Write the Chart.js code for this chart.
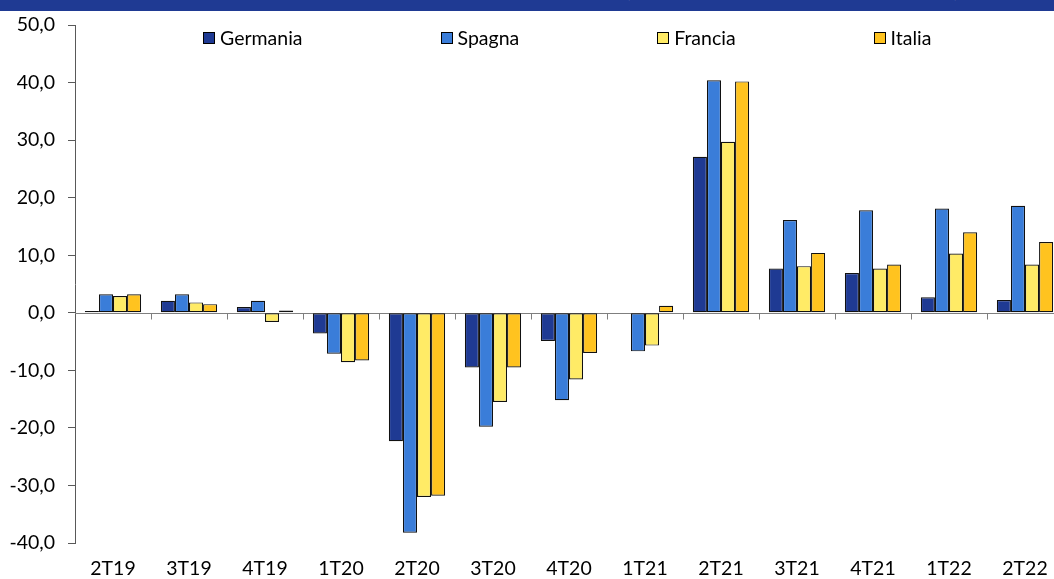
<!DOCTYPE html>
<html>
<head>
<meta charset="utf-8">
<script src="https://cdn.jsdelivr.net/npm/chart.js@4"></script>
<style>
  html, body { margin: 0; padding: 0; background: #fff; overflow: hidden; width: 1054px; height: 579px; }
  #banner { position: absolute; left: 0; top: 0; width: 1054px; height: 11px; background: #1f3a93; overflow: hidden; z-index: 3; }
  #banner .t { position: absolute; top: -24px; color: #fff; font: 22px Lato, sans-serif; white-space: nowrap; line-height: 26px; }
  #wrap { position: absolute; left: 0; top: 0; width: 1068px; height: 579px; }
  #legend { position: absolute; left: 203px; top: 27px; display: flex; z-index: 2; font: 19.5px Lato, sans-serif; color: #000; line-height: 22px; }
  #legend .item { display: flex; align-items: center; margin-right: 138px; }
  #legend .box { width: 10px; height: 10px; border: 1px solid #000; margin-right: 5px; }
</style>
</head>
<body>
<div id="banner"><span class="t" style="left:625px">(variazioni tendenziali</span><span class="t" style="left:925px">, %)</span></div>
<div id="wrap"><canvas id="chart" width="1068" height="579"></canvas></div>
<div id="legend"></div>
<script>
const quarters = ['2T19', '3T19', '4T19', '1T20', '2T20', '3T20', '4T20', '1T21', '2T21', '3T21', '4T21', '1T22', '2T22'];

const germania = [0.3, 2.1, 1.0, -3.6, -22.3, -9.5, -4.9, 0.0, 27.1, 7.7, 6.9, 2.7, 2.2];
const spagna   = [3.2, 3.2, 2.1, -7.1, -38.2, -19.8, -15.2, -6.7, 40.4, 16.1, 17.8, 18.1, 18.6];
const francia  = [2.9, 1.8, -1.6, -8.6, -32.0, -15.5, -11.6, -5.7, 29.7, 8.1, 7.7, 10.3, 8.4];
const italia   = [3.2, 1.5, 0.4, -8.3, -31.8, -9.5, -7.0, 1.2, 40.2, 10.4, 8.4, 14.0, 12.3];

const yTicks = [-40, -30, -20, -10, 0, 10, 20, 30, 40, 50];

const series = [
    { label: 'Germania', data: germania, color: '#1f3a93' },
    { label: 'Spagna',   data: spagna,   color: '#3a7dd9' },
    { label: 'Francia',  data: francia,  color: '#ffeb66' },
    { label: 'Italia',   data: italia,   color: '#ffc31f' }
];

// legend sits inside the plot, like the original
const legendBox = document.getElementById('legend');
series.forEach(s => {
    const item = document.createElement('div');
    item.className = 'item';
    item.innerHTML = `<div class="box" style="background:${s.color}"></div><span>${s.label}</span>`;
    legendBox.appendChild(item);
});

// zero line with tick marks between categories
const zeroAxis = {
    id: 'zeroAxis',
    beforeDatasetsDraw(chart) {
        const { ctx, scales: { x, y }, chartArea } = chart;
        const y0 = Math.round(y.getPixelForValue(0)) + 0.5;
        ctx.save();
        ctx.strokeStyle = '#7f7f7f';
        ctx.lineWidth = 1;
        ctx.beginPath();
        ctx.moveTo(chartArea.left, y0);
        ctx.lineTo(chartArea.right, y0);
        for (let i = 1; i <= quarters.length; i++) {
            const px = Math.round((x.getPixelForValue(i - 1) + x.getPixelForValue(i)) / 2) + 0.5;
            ctx.moveTo(px, y0);
            ctx.lineTo(px, y0 + 6);
        }
        ctx.stroke();
        ctx.restore();
    }
};

const font = { family: 'Lato, sans-serif', size: 19.5, lineHeight: 1 };

new Chart(document.getElementById('chart'), {
    type: 'bar',
    data: {
        labels: quarters,
        datasets: series.map(s => ({
            label: s.label,
            data: s.data,
            backgroundColor: s.color,
            borderColor: '#111',
            borderWidth: 1.2,
            borderSkipped: false,
            categoryPercentage: 0.74,
            barPercentage: 1.0
        }))
    },
    options: {
        responsive: false,
        animation: false,
        layout: { padding: { top: 25, right: 5, left: 0, bottom: 0 } },
        plugins: {
            legend: { display: false },
            tooltip: { enabled: false }
        },
        scales: {
            x: {
                afterFit: scale => { scale.height = 36; },
                grid: { display: false, drawTicks: false },
                border: { display: false },
                ticks: { color: '#000', font: font, padding: 16, maxRotation: 0 }
            },
            y: {
                min: yTicks[0],
                max: yTicks[yTicks.length - 1],
                afterBuildTicks: scale => { scale.ticks = yTicks.map(v => ({ value: v })); },
                afterFit: scale => { scale.width = 75; },
                grid: { drawOnChartArea: false, drawTicks: true, tickLength: 7, color: '#595959' },
                border: { color: '#595959', width: 1 },
                ticks: {
                    color: '#000',
                    font: font,
                    padding: 13,
                    callback: v => v.toFixed(1).replace('.', ',')
                }
            }
        }
    },
    plugins: [zeroAxis]
});
</script>
</body>
</html>
